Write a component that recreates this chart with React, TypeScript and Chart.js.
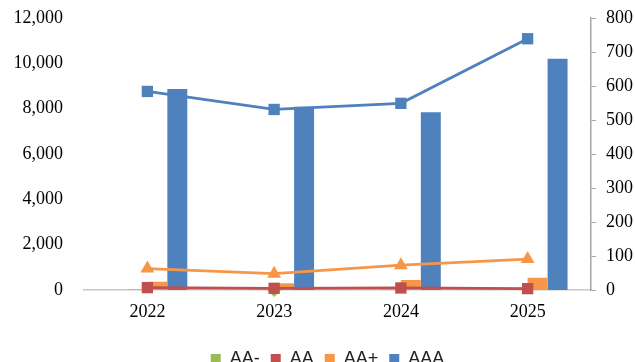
import React, { useEffect, useRef } from "react";
import { Chart, registerables } from "chart.js";

Chart.register(...registerables);

const categories = ["2022", "2023", "2024", "2025"];
const seriesNames = ["AA-", "AA", "AA+", "AAA"];
const seriesColors = ["#9BBB59", "#C0504D", "#F79646", "#4F81BD"];

// Bars (left axis)
const barAAminus = [0, 0, 0, 0];
const barAA = [10, 8, 9, 6];
const barAAplus = [365, 295, 440, 540];
const barAAA = [8870, 8090, 7840, 10200];

// Lines (right axis)
const lineAAminus = [null, 0, null, null];
const lineAA = [7, 5, 6, 4];
const lineAAplus = [63, 48, 73, 91];
const lineAAA = [584, 531, 549, 739];

const leftMax = 12000;
const leftStep = 2000;
const rightMax = 800;
const rightStep = 100;

const serif = "'Liberation Serif', 'Times New Roman', serif";
const sans = "'Liberation Sans', Arial, sans-serif";

const legendShift = {
  id: "legendShift",
  afterLayout(chart: any) {
    const l = chart.legend;
    if (l) {
      l.left += 10;
      l.right += 10;
    }
  },
};

export default function App() {
  const ref = useRef<HTMLCanvasElement | null>(null);

  useEffect(() => {
    if (!ref.current) return;
    const bars = [barAAminus, barAA, barAAplus, barAAA];
    const lines = [lineAAminus, lineAA, lineAAplus, lineAAA];
    const pointStyles = ["rectRot", "rect", "triangle", "rect"];
    const pointRadii = [7, 8, 8, 8];
    const lineOrders = [4, 3, 2, 1];

    const barSets = bars.map((d, i) => ({
      type: "bar" as const,
      label: seriesNames[i],
      data: d,
      backgroundColor: seriesColors[i],
      borderWidth: 0,
      yAxisID: "y",
      order: 10,
    }));
    const lineSets = lines.map((d, i) => ({
      type: "line" as const,
      label: seriesNames[i] + " line",
      data: d,
      borderColor: seriesColors[i],
      backgroundColor: seriesColors[i],
      borderWidth: 2.75,
      pointStyle: pointStyles[i],
      pointRadius: pointRadii[i],
      pointBorderWidth: 0,
      pointBackgroundColor: seriesColors[i],
      yAxisID: "y1",
      order: lineOrders[i],
      clip: false as any,
      spanGaps: false,
    }));

    const chart = new Chart(ref.current, {
      data: {
        labels: categories,
        datasets: [...barSets, ...lineSets] as any,
      },
      plugins: [legendShift],
      options: {
        animation: false,
        responsive: true,
        maintainAspectRatio: false,
        layout: { padding: { top: 18, left: 0, right: 0, bottom: 0 } },
        datasets: {
          bar: { categoryPercentage: 0.63, barPercentage: 1 },
        },
        plugins: {
          tooltip: { enabled: false },
          legend: {
            position: "bottom",
            labels: {
              filter: (item: any) => item.datasetIndex < 4,
              boxWidth: 10,
              boxHeight: 10,
              padding: 11,
              color: "#222",
              font: { family: sans, size: 18 },
            },
          },
        },
        scales: {
          x: {
            grid: { display: true, drawOnChartArea: false, drawTicks: false },
            border: { display: true, color: "#c8c8c8", width: 1.5 },
            ticks: { color: "#000", padding: 11, font: { family: serif, size: 18 } },
            afterFit: (s: any) => {
              s.height = 49;
            },
          },
          y: {
            position: "left",
            min: 0,
            max: leftMax,
            grid: { display: false, drawTicks: false },
            border: { display: false },
            ticks: {
              stepSize: leftStep,
              color: "#000",
              padding: 21,
              font: { family: serif, size: 18 },
              callback: (v: any) => Number(v).toLocaleString("en-US"),
            },
            afterFit: (s: any) => {
              s.width = 84;
              s.paddingTop = 0;
              s.paddingBottom = 0;
            },
          },
          y1: {
            position: "right",
            min: 0,
            max: rightMax,
            grid: {
              display: true,
              drawOnChartArea: false,
              drawTicks: true,
              tickLength: 5,
              color: "#a6a6a6",
            },
            border: { display: true, color: "#a6a6a6", width: 1.5 },
            ticks: {
              stepSize: rightStep,
              color: "#000",
              padding: 10,
              font: { family: serif, size: 18 },
            },
            afterFit: (s: any) => {
              s.width = 44;
              s.paddingTop = 0;
              s.paddingBottom = 0;
            },
          },
        },
      } as any,
    });
    return () => chart.destroy();
  }, []);

  return (
    <div
      style={{
        position: "fixed",
        left: 0,
        top: 0,
        width: 635,
        height: 362,
        overflow: "hidden",
        background: "#fff",
      }}
    >
      <div style={{ position: "relative", width: 635, height: 378 }}>
        <canvas ref={ref} />
      </div>
    </div>
  );
}
